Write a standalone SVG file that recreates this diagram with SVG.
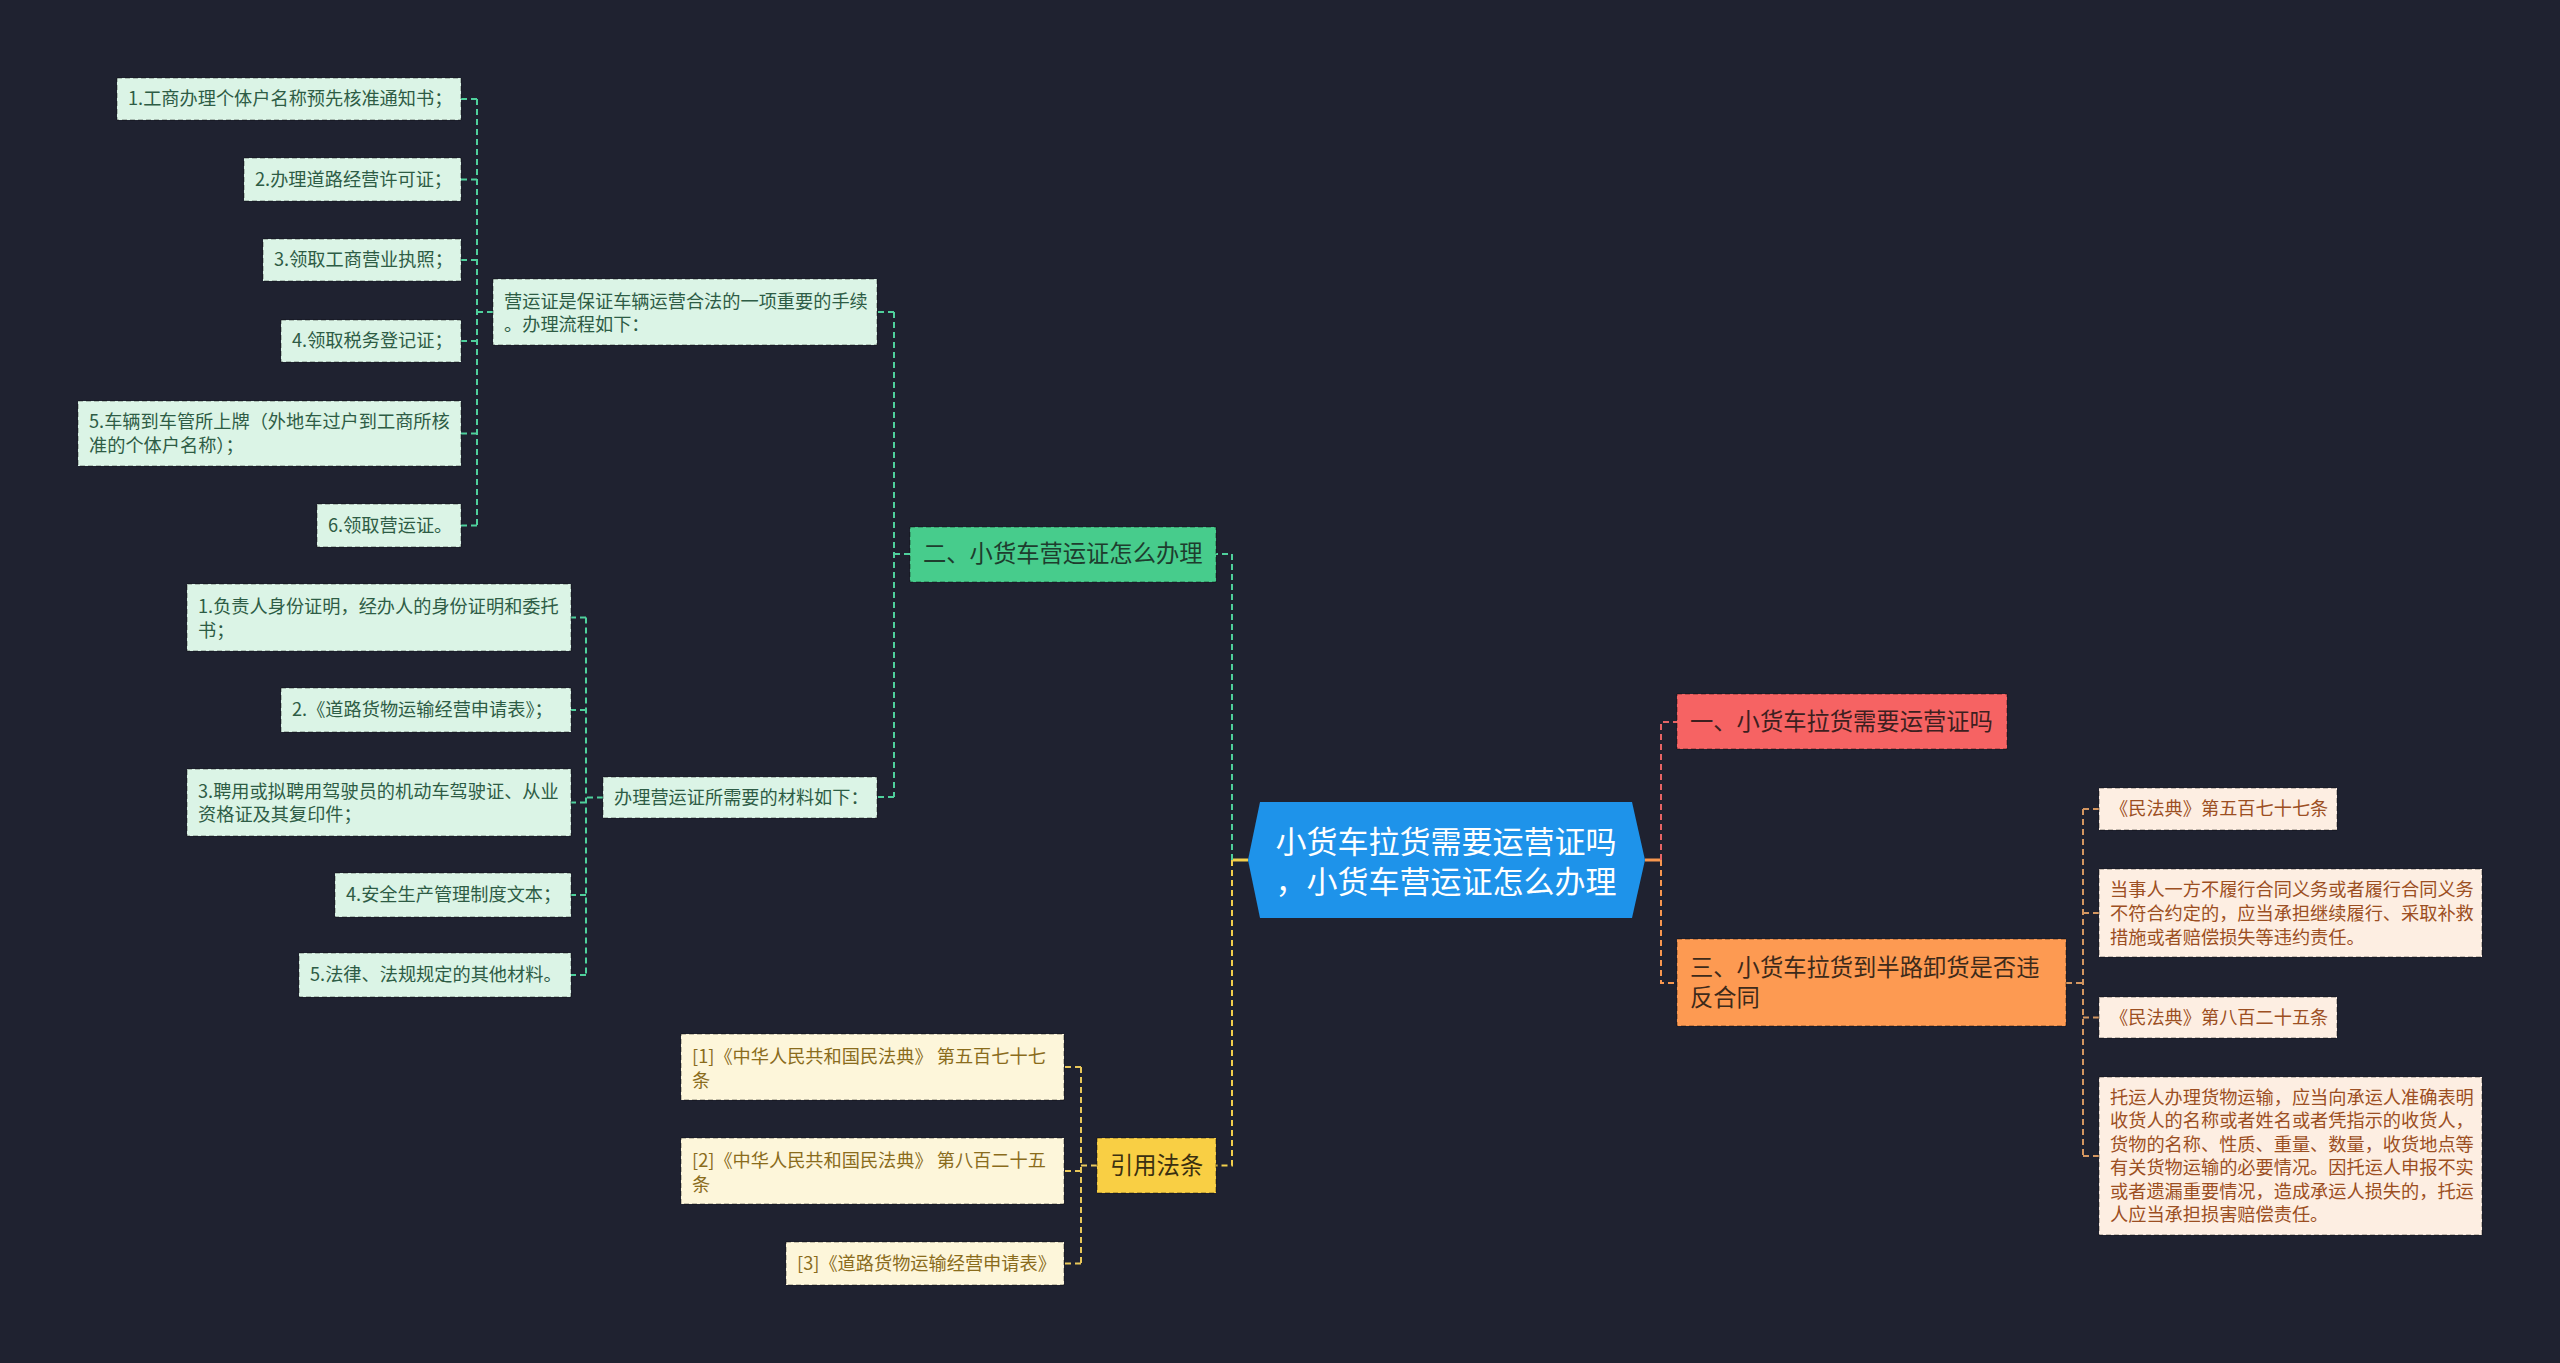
<svg xmlns="http://www.w3.org/2000/svg" width="2560" height="1363" viewBox="0 0 2560 1363">
<style>
text{font-family:"Noto Sans CJK SC","Noto Sans",sans-serif;}
.s{font-size:18.2px;}
.m{font-size:23.3px;}
.nb{stroke:#000;stroke-opacity:0.45;stroke-width:1;stroke-dasharray:5 3;}
.g{fill:#dbf4e6;}
.gt{fill:#2e5c45;}
.y{fill:#fdf6da;}
.yt{fill:#8a6c1c;}
.p{fill:#fdeee2;}
.pt{fill:#9c4f22;}
.c{fill:none;stroke-width:2;stroke-dasharray:6 4;}
.cg{stroke:#4fd09c;}
.cy{stroke:#f2cf4c;}
.cr{stroke:#e66565;}
.co{stroke:#f7974f;}
.cp{stroke:#d39660;}
.cry{stroke:#e9c85a;}
</style>
<rect x="0" y="0" width="2560" height="1363" fill="#1f2230"/>

<g id="connectors">
  <!-- root solid stubs -->
  <path d="M1248 860 H1232" fill="none" stroke="#f2cf4c" stroke-width="3"/>
  <path d="M1645 860 H1661" fill="none" stroke="#f7974f" stroke-width="3"/>
  <!-- root left: green to 二, yellow to 引用法条 -->
  <path class="c cg" d="M1232 860 V554 H1216"/>
  <path class="c cy" d="M1232 860 V1165.5 H1216"/>
  <!-- root right -->
  <path class="c cr" d="M1661 860 V722 H1677"/>
  <path class="c co" d="M1661 860 V983 H1677"/>
  <!-- 二 group -->
  <path class="c cg" d="M910 554 H894 M894 312 V797 M894 312 H877 M894 797 H877"/>
  <!-- 营运证 group -->
  <path class="c cg" d="M493 312 H477 M477 99 V525.5 M477 99 H461 M477 179.5 H461 M477 260 H461 M477 341 H461 M477 433.5 H461 M477 525.5 H461"/>
  <!-- 办理 group -->
  <path class="c cg" d="M603 797.5 H586 M586 617.5 V975 M586 617.5 H571 M586 710 H571 M586 802.5 H571 M586 895 H571 M586 975 H571"/>
  <!-- 引用法条 group -->
  <path class="c cry" d="M1097 1165.5 H1081 M1081 1067 V1263.5 M1081 1067 H1064 M1081 1171 H1064 M1081 1263.5 H1064"/>
  <!-- 三 group -->
  <path class="c cp" d="M2066 983 H2083 M2083 809 V1156 M2083 809 H2099 M2083 913 H2099 M2083 1017.5 H2099 M2083 1156 H2099"/>
</g>

<g id="root">
  <polygon points="1248,860 1260,802 1632,802 1645,860 1632,918 1260,918" fill="#1e93ea"/>
  <text x="1446" y="853" font-size="31" fill="#ffffff" text-anchor="middle">小货车拉货需要运营证吗</text>
  <text x="1446" y="893" font-size="31" fill="#ffffff" text-anchor="middle">，小货车营运证怎么办理</text>
</g>

<g id="n-yi">
  <rect class="nb" x="1677" y="694" width="330" height="55" fill="#f66363"/>
  <text class="m" x="1690" y="730" fill="#3d1f1f">一、小货车拉货需要运营证吗</text>
</g>

<g id="n-san">
  <rect class="nb" x="1677" y="939" width="389" height="87" fill="#fd9a52"/>
  <text class="m" x="1690" y="976" fill="#3d2a1a">三、小货车拉货到半路卸货是否违</text>
  <text class="m" x="1690" y="1006" fill="#3d2a1a">反合同</text>
</g>

<g id="n-er">
  <rect class="nb" x="910" y="527" width="306" height="55" fill="#47cc8c"/>
  <text class="m" x="923" y="562" fill="#1e3d2e">二、小货车营运证怎么办理</text>
</g>

<g id="n-yinyong">
  <rect class="nb" x="1097" y="1138" width="119" height="55" fill="#f9cf44"/>
  <text class="m" x="1110" y="1174" fill="#3b3010">引用法条</text>
</g>

<g id="n-yyz">
  <rect class="nb g" x="493" y="279" width="384" height="66"/>
  <text class="s gt" x="504" y="308">营运证是保证车辆运营合法的一项重要的手续</text>
  <text class="s gt" x="504" y="331">。办理流程如下：</text>
</g>

<g id="n-p1"><rect class="nb g" x="117" y="78" width="344" height="42"/><text class="s gt" x="128" y="105">1.工商办理个体户名称预先核准通知书；</text></g>
<g id="n-p2"><rect class="nb g" x="244" y="158" width="217" height="43"/><text class="s gt" x="255" y="186">2.办理道路经营许可证；</text></g>
<g id="n-p3"><rect class="nb g" x="263" y="239" width="198" height="42"/><text class="s gt" x="274" y="266">3.领取工商营业执照；</text></g>
<g id="n-p4"><rect class="nb g" x="281" y="320" width="180" height="42"/><text class="s gt" x="292" y="347">4.领取税务登记证；</text></g>
<g id="n-p5"><rect class="nb g" x="78" y="401" width="383" height="65"/><text class="s gt" x="89" y="427.5">5.车辆到车管所上牌（外地车过户到工商所核</text><text class="s gt" x="89" y="451.5">准的个体户名称）；</text></g>
<g id="n-p6"><rect class="nb g" x="317" y="504" width="144" height="43"/><text class="s gt" x="328" y="532">6.领取营运证。</text></g>

<g id="n-bl">
  <rect class="nb g" x="603" y="777" width="274" height="41"/>
  <text class="s gt" x="614" y="804">办理营运证所需要的材料如下：</text>
</g>

<g id="n-m1"><rect class="nb g" x="187" y="584" width="384" height="67"/><text class="s gt" x="198" y="613">1.负责人身份证明，经办人的身份证明和委托</text><text class="s gt" x="198" y="637">书；</text></g>
<g id="n-m2"><rect class="nb g" x="281" y="688" width="290" height="44"/><text class="s gt" x="292" y="716">2.《道路货物运输经营申请表》；</text></g>
<g id="n-m3"><rect class="nb g" x="187" y="769" width="384" height="67"/><text class="s gt" x="198" y="798">3.聘用或拟聘用驾驶员的机动车驾驶证、从业</text><text class="s gt" x="198" y="821">资格证及其复印件；</text></g>
<g id="n-m4"><rect class="nb g" x="335" y="873" width="236" height="44"/><text class="s gt" x="346" y="901">4.安全生产管理制度文本；</text></g>
<g id="n-m5"><rect class="nb g" x="299" y="953" width="272" height="44"/><text class="s gt" x="310" y="981">5.法律、法规规定的其他材料。</text></g>

<g id="n-r1"><rect class="nb y" x="681" y="1034" width="383" height="66"/><text class="s yt" x="692" y="1063">[1]《中华人民共和国民法典》 第五百七十七</text><text class="s yt" x="692" y="1087">条</text></g>
<g id="n-r2"><rect class="nb y" x="681" y="1138" width="383" height="66"/><text class="s yt" x="692" y="1167">[2]《中华人民共和国民法典》 第八百二十五</text><text class="s yt" x="692" y="1191">条</text></g>
<g id="n-r3"><rect class="nb y" x="786" y="1242" width="278" height="43"/><text class="s yt" x="797" y="1270">[3]《道路货物运输经营申请表》</text></g>

<g id="n-pe1"><rect class="nb p" x="2099" y="788" width="238" height="42"/><text class="s pt" x="2110" y="815">《民法典》第五百七十七条</text></g>
<g id="n-pe2"><rect class="nb p" x="2099" y="869" width="383" height="88"/>
  <text class="s pt" x="2110" y="896">当事人一方不履行合同义务或者履行合同义务</text>
  <text class="s pt" x="2110" y="920">不符合约定的，应当承担继续履行、采取补救</text>
  <text class="s pt" x="2110" y="944">措施或者赔偿损失等违约责任。</text>
</g>
<g id="n-pe3"><rect class="nb p" x="2099" y="997" width="238" height="41"/><text class="s pt" x="2110" y="1023.5">《民法典》第八百二十五条</text></g>
<g id="n-pe4"><rect class="nb p" x="2099" y="1077" width="383" height="158"/>
  <text class="s pt" x="2110" y="1104">托运人办理货物运输，应当向承运人准确表明</text>
  <text class="s pt" x="2110" y="1127.4">收货人的名称或者姓名或者凭指示的收货人，</text>
  <text class="s pt" x="2110" y="1150.8">货物的名称、性质、重量、数量，收货地点等</text>
  <text class="s pt" x="2110" y="1174.2">有关货物运输的必要情况。因托运人申报不实</text>
  <text class="s pt" x="2110" y="1197.6">或者遗漏重要情况，造成承运人损失的，托运</text>
  <text class="s pt" x="2110" y="1221">人应当承担损害赔偿责任。</text>
</g>
</svg>
